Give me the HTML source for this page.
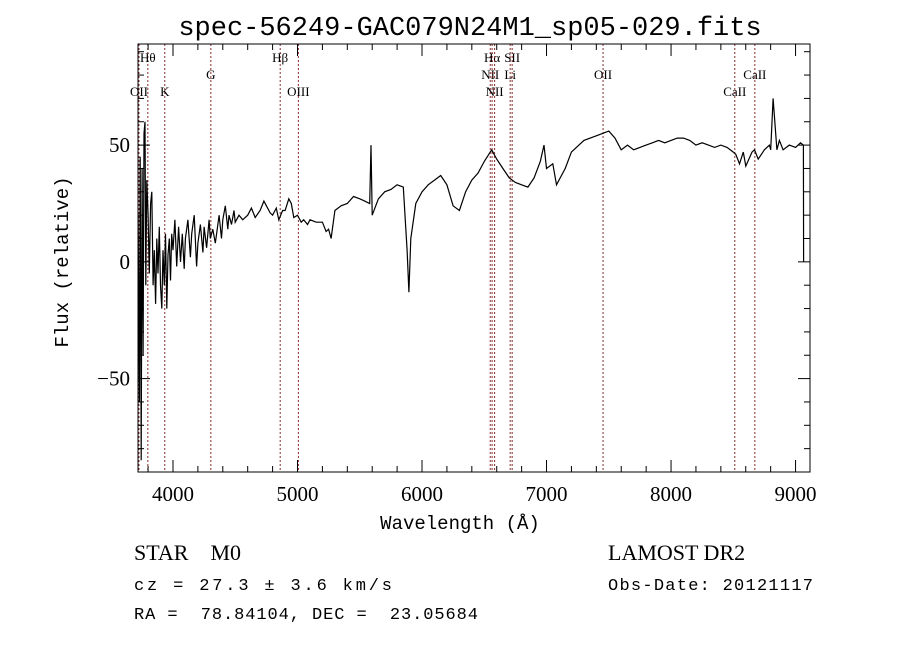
<!DOCTYPE html>
<html><head><meta charset="utf-8"><style>
body{margin:0;background:#fff;}
svg text{font-family:"Liberation Serif",serif;fill:#000;white-space:pre;}
.m{font-family:"Liberation Mono",monospace !important;}
</style></head><body>
<svg id="c" width="900" height="649" xmlns="http://www.w3.org/2000/svg">
<rect width="900" height="649" fill="#fff"/>
<text x="470" y="35" font-size="27" text-anchor="middle" class="m">spec-56249-GAC079N24M1_sp05-029.fits</text>
<g id="lines"></g>
<g id="ticks"></g>
<polyline id="spec" fill="none" stroke="#000" stroke-width="1.2"/>
<rect x="138" y="44" width="672" height="428" fill="none" stroke="#000" stroke-width="1"/>
<text x="460" y="529" font-size="19" text-anchor="middle" class="m">Wavelength (Å)</text>
<text transform="translate(68,262) rotate(-90)" font-size="19" text-anchor="middle" class="m">Flux (relative)</text>
<text x="134" y="560" font-size="22">STAR    M0</text>
<text x="134" y="590" font-size="17" class="m" textLength="258">cz = 27.3 ± 3.6 km/s</text>
<text x="134" y="619" font-size="17" class="m" textLength="344">RA =  78.84104, DEC =  23.05684</text>
<text x="608" y="560" font-size="22">LAMOST DR2</text>
<text x="608" y="590" font-size="17" class="m" textLength="205">Obs-Date: 20121117</text>
</svg>
<script>
const wave=[3720,3730,3737,3745,3752,3760,3767,3775,3782,3790,3800,3810,3820,3830,3840,3850,3860,3870,3880,3890,3900,3910,3920,3930,3940,3950,3960,3970,3980,3990,4000,4015,4030,4045,4060,4075,4090,4100,4120,4140,4150,4170,4190,4200,4220,4240,4250,4270,4290,4300,4320,4340,4350,4370,4390,4400,4420,4440,4450,4470,4490,4500,4530,4560,4600,4630,4660,4700,4730,4750,4780,4800,4830,4850,4880,4900,4930,4950,4970,5000,5030,5050,5080,5100,5150,5200,5230,5250,5270,5300,5350,5400,5450,5500,5540,5580,5590,5600,5650,5700,5750,5800,5850,5880,5895,5910,5950,6000,6050,6100,6150,6200,6250,6300,6350,6400,6450,6500,6560,6600,6650,6700,6750,6800,6850,6900,6950,6980,7000,7050,7080,7150,7200,7300,7400,7500,7550,7600,7650,7700,7750,7800,7850,7900,7950,8000,8050,8100,8150,8200,8250,8300,8350,8400,8450,8500,8520,8550,8580,8600,8650,8670,8700,8750,8790,8800,8820,8850,8870,8900,8950,9000,9040,9062,9063,9065];
const flux=[20,-60,45,-85,40,-40,55,60,-10,35,20,-5,25,30,-10,5,-18,10,-5,15,-10,-20,5,-10,12,-20,3,10,-8,12,5,18,-2,15,0,12,-3,10,18,2,12,20,-2,8,16,4,15,6,18,10,14,8,12,20,10,18,24,14,20,16,22,17,20,18,20,23,19,22,26,24,21,20,23,18,22,22,27,25,19,20,17,18,16,18,17,17,13,14,10,22,24,25,28,27,26,25,50,20,27,30,31,33,32,5,-13,10,25,30,33,35,37,33,24,22,30,35,38,43,48,44,40,36,34,33,32,36,43,50,40,42,33,40,47,52,54,56,53,48,50,48,49,50,51,52,51,52,53,53,52,50,51,50,49,50,49,47,46,42,47,41,47,48,44,48,50,48,70,48,52,48,50,49,51,50,50,0,22];
const lineNames=["OII","Hθ","K","G","Hβ","OIII","NII","Hα","NII","Li","SII","OII","CaII","CaII"];
const lineWaves=[3727,3798,3934,4304,4861,5007,6548,6563,6583,6708,6724,7454,8512,8673];
const lineRows=[3,1,3,2,1,3,2,1,3,2,1,2,3,2];
const xTicks=[4000,5000,6000,7000,8000,9000];
const yTicks=[-50,0,50];
const X0=3719,X1=9116,Y0=-90,Y1=93.3,L=138,R=810,T=44,B=472;
const sx=w=>L+(w-X0)/(X1-X0)*(R-L);
const sy=f=>B-(f-Y0)/(Y1-Y0)*(B-T);
const NS="http://www.w3.org/2000/svg";
const mk=(t,a,p)=>{const e=document.createElementNS(NS,t);for(const k in a)e.setAttribute(k,a[k]);p.appendChild(e);return e;};
const gl=document.getElementById('lines');
lineWaves.forEach((w,i)=>{
 const x=sx(w);
 const l=mk('line',{x1:x,x2:x,y1:T,y2:B,stroke:'#8b2a2a','stroke-width':1,'stroke-dasharray':'2,2'},gl);
 
 
 const t=mk('text',{x:x,y:T+17*lineRows[i]+1,'font-size':13,'text-anchor':'middle'},gl);
 t.textContent=lineNames[i];
 
 
});
const gt=document.getElementById('ticks');
for(let w=3800;w<=9100;w+=200){const x=sx(w);const M=w%1000==0;const len=M?12:6;
 const a=mk('line',{x1:x,x2:x,y1:B,y2:B-len,stroke:'#000'},gt);
 const b=mk('line',{x1:x,x2:x,y1:T,y2:T+len,stroke:'#000'},gt);}
xTicks.forEach(w=>{const t=mk('text',{x:sx(w),y:B+29,'font-size':21,'text-anchor':'middle','font-family':'Liberation Sans'},gt);t.textContent=w;
 });
for(let f=-80;f<=90;f+=10){const y=sy(f);const M=f%50==0;const len=M?12:6;
 const a=mk('line',{x1:L,x2:L+len,y1:y,y2:y,stroke:'#000'},gt);
 const b=mk('line',{x1:R,x2:R-len,y1:y,y2:y,stroke:'#000'},gt);}
yTicks.forEach(f=>{const t=mk('text',{x:L-8,y:sy(f)+7,'font-size':21,'text-anchor':'end','font-family':'Liberation Sans'},gt);t.textContent=f<0?'−'+(-f):f;
 });
document.getElementById('spec').setAttribute('points',wave.map((w,i)=>sx(w).toFixed(1)+','+sy(flux[i]).toFixed(1)).join(' '));
</script>
</body></html>
